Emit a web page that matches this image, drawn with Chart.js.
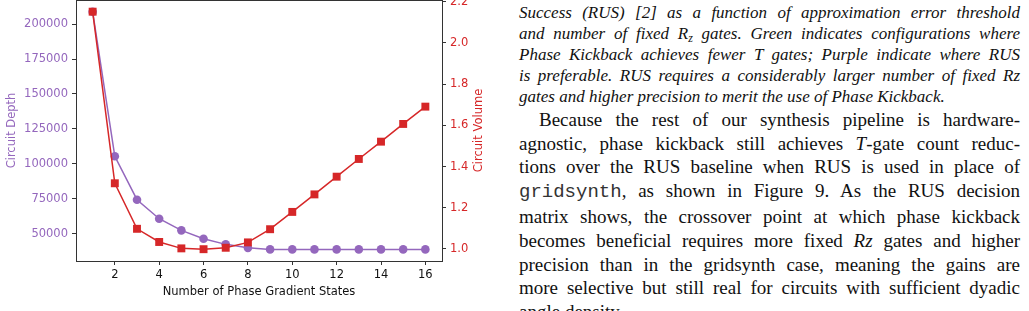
<!DOCTYPE html>
<html lang="en">
<head>
  <meta charset="UTF-8">
  <title>Circuit depth and volume vs phase gradient states</title>
  <style>
    body {
      margin: 0;
      width: 1029px;
      height: 311px;
      overflow: hidden;
      background: #fff;
      position: relative;
    }
    #wrap {
      position: absolute;
      left: 0;
      top: -20px;
      width: 500px;
      height: 331px;
    }
    .col {
      position: absolute;
      left: 519px;
      width: 501px;
      color: #111;
      font-family: "Liberation Serif", "Times New Roman", serif;
    }
    #caption {
      top: 3px;
      font-size: 17px;
      line-height: 20.9px;
      font-style: italic;
    }
    #para {
      top: 107.8px;
      font-size: 19px;
      line-height: 23.8px;
    }
    .ln {
      text-align: justify;
      text-align-last: justify;
      white-space: nowrap;
    }
    .ln.end {
      text-align-last: left;
    }
    .ln.first {
      padding-left: 20px;
    }
    sub {
      font-size: 0.7em;
      line-height: 0;
      vertical-align: -0.25em;
    }
    code {
      font-family: "Liberation Mono", "Courier New", monospace;
      font-size: 19px;
      color: #333;
    }
  </style>
</head>
<body>
  <div id="wrap"><canvas id="grafico"></canvas></div>

  <div class="col" id="caption">
    <div class="ln">Success (RUS) [2] as a function of approximation error threshold</div>
    <div class="ln">and number of fixed <i>R</i><sub>z</sub> gates. Green indicates configurations where</div>
    <div class="ln">Phase Kickback achieves fewer <i>T</i> gates; Purple indicate where RUS</div>
    <div class="ln">is preferable. RUS requires a considerably larger number of fixed <i>Rz</i></div>
    <div class="ln end">gates and higher precision to merit the use of Phase Kickback.</div>
  </div>

  <div class="col" id="para">
    <div class="ln first">Because the rest of our synthesis pipeline is hardware-</div>
    <div class="ln">agnostic, phase kickback still achieves <i>T</i>-gate count reduc-</div>
    <div class="ln">tions over the RUS baseline when RUS is used in place of</div>
    <div class="ln"><code>gridsynth</code>, as shown in Figure 9. As the RUS decision</div>
    <div class="ln">matrix shows, the crossover point at which phase kickback</div>
    <div class="ln">becomes beneficial requires more fixed <i>Rz</i> gates and higher</div>
    <div class="ln">precision than in the gridsynth case, meaning the gains are</div>
    <div class="ln">more selective but still real for circuits with sufficient dyadic</div>
    <div class="ln end">angle density.</div>
  </div>

  <script src="https://cdn.jsdelivr.net/npm/chart.js"></script>
  <script>
    // dados
    const states = [1, 2, 3, 4, 5, 6, 7, 8, 9, 10, 11, 12, 13, 14, 15, 16];
    const depth = [208800, 105500, 74500, 60900, 52600, 46600, 42600, 40100,
                   39000, 39000, 39000, 39000, 39000, 39000, 39000, 39000];
    const volume = [2.152, 1.319, 1.098, 1.034, 1.003, 0.999, 1.006, 1.032,
                    1.096, 1.180, 1.265, 1.351, 1.437, 1.521, 1.607, 1.691];

    // marcas dos eixos
    const xTicks = [2, 4, 6, 8, 10, 12, 14, 16];
    const depthTicks = [50000, 75000, 100000, 125000, 150000, 175000, 200000];
    const volumeTicks = [1.0, 1.2, 1.4, 1.6, 1.8, 2.0, 2.2];

    const purple = '#9467bd';
    const red = '#d62728';
    const axisColor = '#333';

    Chart.defaults.font.family = 'DejaVu Sans';
    Chart.defaults.font.size = 11.5;

    const canvas = document.getElementById('grafico');
    canvas.width = 500;
    canvas.height = 331;

    // moldura de cima (eixo superior do matplotlib)
    const topBorder = {
      id: 'topBorder',
      afterDraw(chart) {
        const a = chart.chartArea;
        const c = chart.ctx;
        c.save();
        c.strokeStyle = axisColor;
        c.lineWidth = 1;
        c.beginPath();
        c.moveTo(a.left, Math.round(a.top) + 0.5);
        c.lineTo(a.right, Math.round(a.top) + 0.5);
        c.stroke();
        c.restore();
      }
    };

    // titulo do eixo direito, lido de baixo para cima como no matplotlib
    const volumeTitle = {
      id: 'volumeTitle',
      afterDraw(chart) {
        const s = chart.scales.yVolume;
        const c = chart.ctx;
        c.save();
        c.translate(s.right - 21, (s.top + s.bottom) / 2);
        c.rotate(-Math.PI / 2);
        c.font = '11.5px "DejaVu Sans"';
        c.fillStyle = red;
        c.textAlign = 'center';
        c.textBaseline = 'middle';
        c.fillText('Circuit Volume', 0, 0);
        c.restore();
      }
    };

    const tickGrid = {
      display: true,
      drawOnChartArea: false,
      drawTicks: true,
      tickLength: 4,
      color: axisColor,
      lineWidth: 1
    };

    new Chart(canvas, {
      type: 'line',
      data: {
        datasets: [
          {
            label: 'Circuit Depth',
            data: states.map((s, i) => ({ x: s, y: depth[i] })),
            yAxisID: 'yDepth',
            borderColor: purple,
            backgroundColor: purple,
            borderWidth: 1.5,
            pointStyle: 'circle',
            pointRadius: 4.3,
            pointBorderWidth: 0,
            order: 2
          },
          {
            label: 'Circuit Volume',
            data: states.map((s, i) => ({ x: s, y: volume[i] })),
            yAxisID: 'yVolume',
            borderColor: red,
            backgroundColor: red,
            borderWidth: 1.5,
            pointStyle: 'rect',
            pointRadius: 5.6,
            pointBorderWidth: 0,
            order: 1
          }
        ]
      },
      options: {
        responsive: false,
        animation: false,
        layout: { padding: { top: 20, left: 0, right: 0, bottom: 0 } },
        plugins: {
          legend: { display: false },
          tooltip: { enabled: false }
        },
        scales: {
          x: {
            type: 'linear',
            min: 0.25,
            max: 16.75,
            afterBuildTicks: (axis) => { axis.ticks = xTicks.map(v => ({ value: v })); },
            afterFit: (axis) => { axis.height = 50; },
            ticks: { color: '#111', padding: 3, maxRotation: 0, autoSkip: false },
            grid: tickGrid,
            border: { display: true, color: axisColor, width: 1 },
            title: {
              display: true,
              text: 'Number of Phase Gradient States',
              color: '#111',
              padding: { top: 0, bottom: 12 }
            }
          },
          yDepth: {
            type: 'linear',
            position: 'left',
            min: 30714,
            max: 217143,
            afterBuildTicks: (axis) => { axis.ticks = depthTicks.map(v => ({ value: v })); },
            afterFit: (axis) => { axis.width = 76; },
            ticks: { color: purple, padding: 4, callback: (v) => String(v) },
            grid: tickGrid,
            border: { display: true, color: axisColor, width: 1 },
            title: {
              display: true,
              text: 'Circuit Depth',
              color: purple,
              padding: { top: 5, bottom: 0 }
            }
          },
          yVolume: {
            type: 'linear',
            position: 'right',
            min: 0.9417,
            max: 2.2087,
            afterBuildTicks: (axis) => { axis.ticks = volumeTicks.map(v => ({ value: v })); },
            afterFit: (axis) => { axis.width = 58; },
            ticks: { color: red, padding: 4, callback: (v) => v.toFixed(1) },
            grid: tickGrid,
            border: { display: true, color: axisColor, width: 1 },
            title: { display: false }
          }
        }
      },
      plugins: [topBorder, volumeTitle]
    });
  </script>
</body>
</html>
